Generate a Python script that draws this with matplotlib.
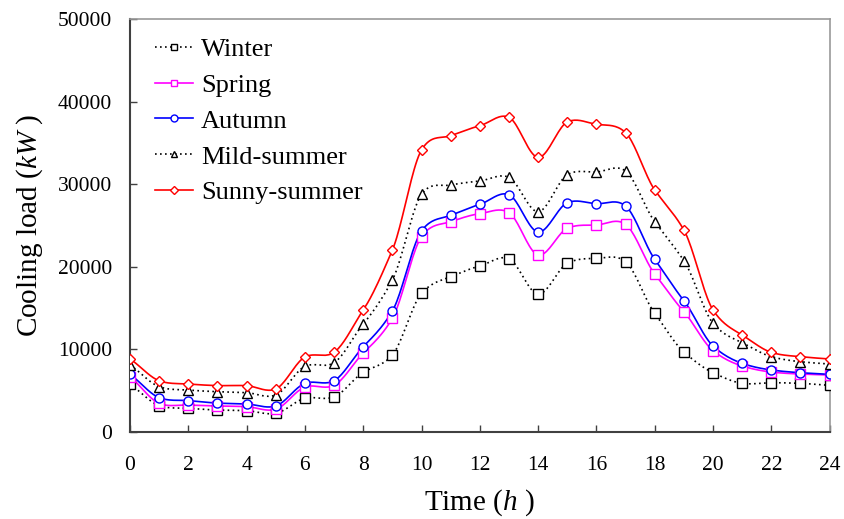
import numpy as np
import matplotlib
matplotlib.use("Agg")
import matplotlib.pyplot as plt

plt.rcParams['font.family'] = ['Liberation Serif', 'DejaVu Serif']
plt.rcParams['mathtext.fontset'] = 'custom'
plt.rcParams['mathtext.rm'] = 'Liberation Serif'
plt.rcParams['mathtext.it'] = 'Liberation Serif:italic'

hours = list(range(25))
winter = [5770, 3200, 2870, 2660, 2580, 2260, 4080, 4250, 7230, 9320, 16790, 18800, 20100,
          20980, 16700, 20420, 21020, 20620, 14370, 9690, 7180, 5890, 5970, 5890, 5650]
spring = [6700, 3470, 3270, 3150, 3070, 2750, 5450, 5650, 9550, 13760, 23650, 25460, 26430,
          26560, 21430, 24660, 25060, 25140, 19130, 14570, 9840, 7990, 7260, 7020, 6900]
autumn = [6980, 4160, 3800, 3500, 3390, 3150, 5890, 6210, 10330, 14650, 24330, 26230, 27560,
          28730, 24210, 27760, 27640, 27360, 20900, 15900, 10410, 8310, 7510, 7180, 6980]
mild_summer = [8110, 5490, 5080, 4880, 4760, 4480, 7950, 8390, 13080, 18400, 28770, 29900, 30390,
               30830, 26670, 31150, 31480, 31600, 25460, 20740, 13160, 10810, 9120, 8510, 8230]
sunny_summer = [8840, 6210, 5810, 5620, 5610, 5210, 9080, 9650, 14770, 22030, 34140, 35870, 37080,
                38100, 33250, 37530, 37250, 36240, 29300, 24450, 14770, 11740, 9640, 9120, 8840]

series = [
    ("Winter", winter, dict(color='black', ls=(0, (1, 2.0)), marker='s', mec='black')),
    ("Spring", spring, dict(color='#ff00ff', ls='-', marker='s', mec='#ff00ff')),
    ("Autumn", autumn, dict(color='#0000ff', ls='-', marker='o', mec='#0000ff')),
    ("Mild-summer", mild_summer, dict(color='black', ls=(0, (1, 2.0)), marker='^', mec='black')),
    ("Sunny-summer", sunny_summer, dict(color='#ff0000', ls='-', marker='D', mec='#ff0000')),
]


def smooth(x, y, n=20):
    # Catmull-Rom style smoothing for drawing (Excel-like smoothed line)
    x = np.asarray(x, float)
    y = np.asarray(y, float)
    xs, ys = [], []
    for i in range(len(x) - 1):
        p0 = y[i - 1] if i > 0 else y[i]
        p1, p2 = y[i], y[i + 1]
        p3 = y[i + 2] if i + 2 < len(y) else y[i + 1]
        t = np.linspace(0, 1, n, endpoint=False)
        m1 = (p2 - p0) / 2 if i > 0 else (p2 - p1)
        m2 = (p3 - p1) / 2 if i + 2 < len(y) else (p2 - p1)
        m1 *= 0.85
        m2 *= 0.85
        h00 = 2 * t**3 - 3 * t**2 + 1
        h10 = t**3 - 2 * t**2 + t
        h01 = -2 * t**3 + 3 * t**2
        h11 = t**3 - t**2
        xs.append(x[i] + t * (x[i + 1] - x[i]))
        ys.append(h00 * p1 + h10 * m1 + h01 * p2 + h11 * m2)
    xs.append([x[-1]])
    ys.append([y[-1]])
    return np.concatenate(xs), np.concatenate(ys)


fig = plt.figure(figsize=(8.44, 5.19), dpi=100)
ax = fig.add_axes([0.154, 0.1676, 0.829, 0.7958])

handles = []
for name, vals, st in series:
    sx, sy = smooth(hours, vals)
    ax.plot(sx, sy, color=st['color'], ls=st['ls'], lw=1.2, zorder=2)
    ax.plot(hours, vals, ls='none', marker=st['marker'], mfc='white', mec=st['mec'],
            ms=6.5 if st['marker'] != 'D' else 5.5, mew=1.0, zorder=3)
    h, = ax.plot([], [], color=st['color'], ls=st['ls'], lw=1.2, marker=st['marker'],
                 mfc='white', mec=st['mec'], ms=5 if st['marker'] != 'D' else 4.3, mew=1.0, label=name)
    handles.append(h)

ax.set_xlim(0, 24)
ax.set_ylim(0, 50000)
ax.set_xticks(range(0, 25, 2))
ax.set_yticks(range(0, 50001, 10000))
ax.tick_params(direction='in', labelsize=15.5, length=5, width=1, colors='#404040', labelcolor='black',
               top=False, right=False)
ax.tick_params(axis='x', pad=17)
ax.tick_params(axis='y', pad=13)
for s in ['left', 'bottom']:
    ax.spines[s].set_color('#404040')
    ax.spines[s].set_linewidth(1.5)
for s in ['top', 'right']:
    ax.spines[s].set_color('#999999')
    ax.spines[s].set_linewidth(1.2)

ax.set_xlabel(r'Time ($\mathit{h}$ )', fontsize=21, labelpad=9.5)
ax.set_ylabel(r'Cooling load ($\mathit{kW}$ )', fontsize=21, labelpad=9)

ax.legend(handles=handles, loc='upper left', frameon=False, fontsize=19, handlelength=1.45,
          handletextpad=0.3, labelspacing=0.47, borderaxespad=0.3, bbox_to_anchor=(0.009, 1.0))

fig.savefig('out.png', dpi=100)
